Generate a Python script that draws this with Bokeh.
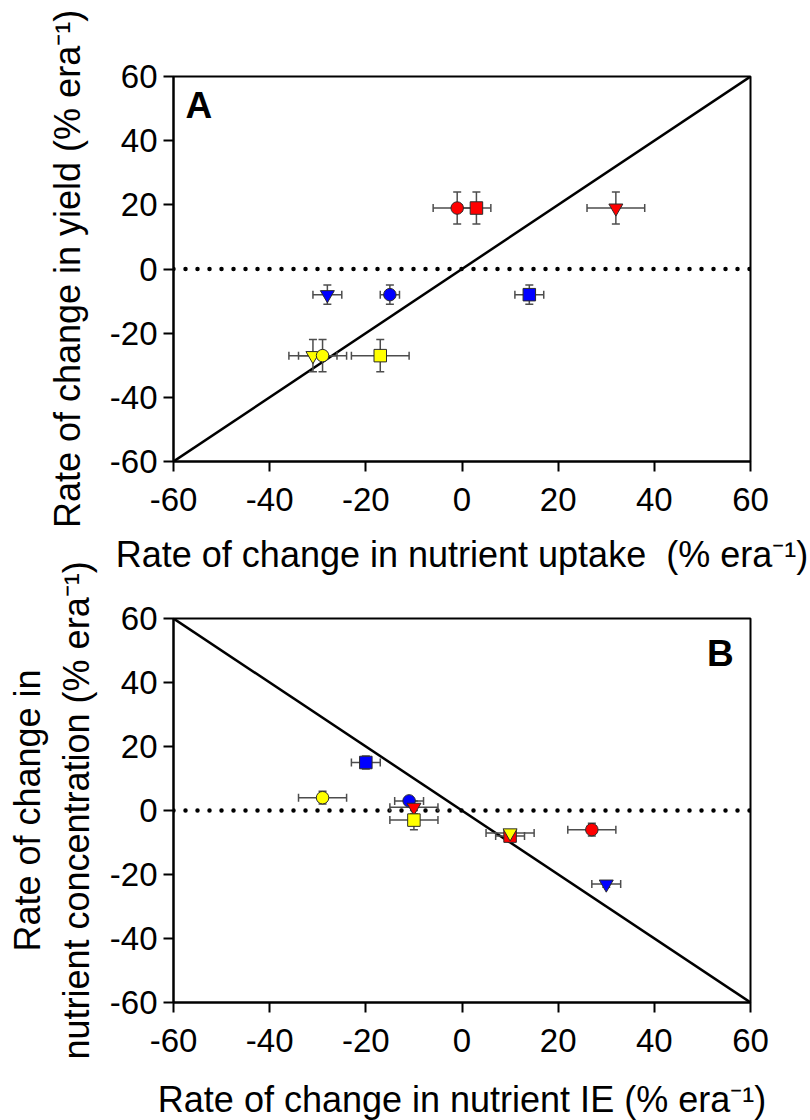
from bokeh.plotting import figure
from bokeh.models import (ColumnDataSource, Whisker, TeeHead, Span, Slope, Label,
                          Range1d, FixedTicker)
from bokeh.layouts import column
from bokeh.embed import file_html
from bokeh.resources import INLINE

# ---------------- data ----------------
axis_limits = [-60, 60]
tick_values = [-60, -40, -20, 0, 20, 40, 60]
tick_labels = ["-60", "-40", "-20", "0", "20", "40", "60"]

point_colors = ["#0000FF", "#0000FF", "#0000FF",
                "#FF0000", "#FF0000", "#FF0000",
                "#FFFF00", "#FFFF00", "#FFFF00"]
point_markers = ["inverted_triangle", "square", "circle",
                 "inverted_triangle", "square", "circle",
                 "inverted_triangle", "square", "circle"]

# Panel A: uptake (x) vs yield (y)
a_uptake = [-28, 14, -15, 32, 3, -1, -31, -17, -29]
a_uptake_err = [3, 3, 2, 6, 3, 5, 5, 6, 5]
a_yield = [-8, -8, -8, 19, 19, 19, -27, -27, -27]
a_yield_err = [3, 3, 3, 5, 5, 5, 5, 5, 5]

# Panel B: IE (x) vs concentration (y)
b_ie = [30, -20, -11, -10, 10, 27, 10, -10, -29]
b_ie_err = [3, 3, 3, 5, 3, 5, 5, 5, 5]
b_conc = [-23, 15, 3, 1, -8, -6, -7, -3, 4]
b_conc_err = [1, 2, 1, 2, 1, 2, 1, 3, 2]

FONT = "Liberation Sans"
ERR_COLOR = "#4d4d4d"


def make_panel(xv, xe, yv, ye, xlabel, ylabel, slope, letter, letter_xy, letter_align,
               min_top, frame_h, min_bottom, xlabel_standoff, ylabel_standoff):
    p = figure(frame_width=577, frame_height=frame_h,
               min_border_left=173, min_border_right=58,
               min_border_top=min_top, min_border_bottom=min_bottom,
               x_range=Range1d(*axis_limits), y_range=Range1d(*axis_limits),
               toolbar_location=None, output_backend="svg")
    p.xgrid.visible = False
    p.ygrid.visible = False
    p.outline_line_color = "black"
    p.outline_line_width = 2
    p.outline_line_alpha = 1

    overrides = {v: s for v, s in zip(tick_values, tick_labels)}
    for ax in (p.xaxis[0], p.yaxis[0]):
        ax.ticker = FixedTicker(ticks=tick_values)
        ax.major_label_overrides = overrides
        ax.axis_line_width = 2
        ax.axis_line_color = "black"
        ax.major_tick_line_width = 2
        ax.major_tick_line_color = "black"
        ax.major_tick_out = 10
        ax.major_tick_in = 0
        ax.minor_tick_line_color = None
        ax.major_label_text_font = FONT
        ax.major_label_text_font_size = "33px"
        ax.major_label_text_color = "black"
        ax.axis_label_text_font = FONT
        ax.axis_label_text_font_size = "36px"
        ax.axis_label_text_font_style = "normal"
        ax.axis_label_text_color = "black"
    p.xaxis.major_label_standoff = 16
    p.yaxis.major_label_standoff = 6
    p.xaxis.axis_label_standoff = xlabel_standoff
    p.yaxis.axis_label_standoff = ylabel_standoff
    p.xaxis.axis_label = xlabel
    p.yaxis.axis_label = ylabel

    p.add_layout(Slope(gradient=slope, y_intercept=0, line_color="black",
                       line_width=2.5, level="underlay"))
    p.add_layout(Span(location=0, dimension="width", line_color="black",
                      line_width=4.5, line_dash="0 12", line_cap="round",
                      level="underlay"))

    src = ColumnDataSource(dict(
        x=xv, y=yv,
        xl=[a - b for a, b in zip(xv, xe)], xu=[a + b for a, b in zip(xv, xe)],
        yl=[a - b for a, b in zip(yv, ye)], yu=[a + b for a, b in zip(yv, ye)],
        color=point_colors, marker=point_markers,
        size=[14 if m == "inverted_triangle" else 12.5 for m in point_markers]))

    for dim, base, lo, hi in (("width", "y", "xl", "xu"), ("height", "x", "yl", "yu")):
        w = Whisker(source=src, base=base, lower=lo, upper=hi, dimension=dim,
                    line_color=ERR_COLOR, line_width=1.5, level="underlay",
                    upper_head=TeeHead(size=8, line_color=ERR_COLOR, line_width=1.5),
                    lower_head=TeeHead(size=8, line_color=ERR_COLOR, line_width=1.5))
        p.add_layout(w)

    p.scatter("x", "y", marker="marker", size="size", fill_color="color",
              line_color="#2b2b2b", line_width=1, source=src)

    p.add_layout(Label(x=letter_xy[0], y=letter_xy[1], text=letter,
                       text_font=FONT, text_font_size="37px", text_font_style="bold",
                       text_align=letter_align, text_baseline="top",
                       text_color="black"))
    return p


pA = make_panel(a_uptake, a_uptake_err, a_yield, a_yield_err,
                "Rate of change in nutrient uptake\u00a0 (% era\u207b\u00b9)",
                "Rate of change in yield (% era\u207b\u00b9)",
                1, "A", (-57.5, 57.2), "left",
                min_top=76, frame_h=385, min_bottom=125,
                xlabel_standoff=20, ylabel_standoff=19)

pB = make_panel(b_ie, b_ie_err, b_conc, b_conc_err,
                "Rate of change in nutrient IE (% era\u207b\u00b9)",
                "Rate of change in\nnutrient concentration (% era\u207b\u00b9)",
                -1, "B", (56.5, 55.6), "right",
                min_top=71, frame_h=384, min_bottom=10,
                xlabel_standoff=24, ylabel_standoff=10)
pB.border_fill_alpha = 0
pB.margin = (-39, 0, 0, 0)

layout = column(pA, pB)
open("out.html", "w").write(file_html(layout, INLINE))
